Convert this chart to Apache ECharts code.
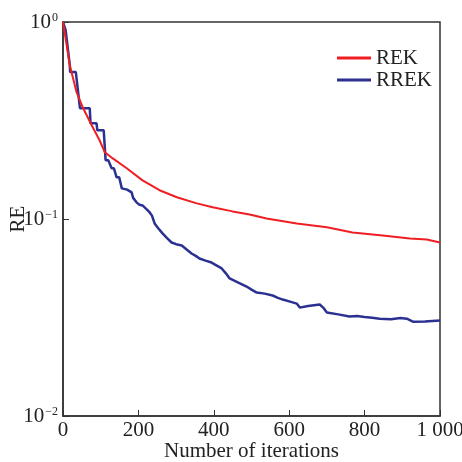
<!DOCTYPE html>
<html>
<head>
<meta charset="utf-8">
<script src="https://cdn.jsdelivr.net/npm/echarts@6/dist/echarts.min.js"></script>
<style>
  html, body { margin: 0; padding: 0; background: #fff; }
  #chart { width: 462px; height: 462px; }
</style>
</head>
<body>
<div id="chart"></div>
<script>
var seriesNames = ['REK', 'RREK'];

// [iteration, RE]
var rekData = [
    [0, 1.0], [18, 0.604], [36, 0.44], [52, 0.37], [76, 0.299], [97, 0.251],
    [111, 0.218], [132, 0.203], [169, 0.181], [211, 0.157], [256, 0.14],
    [302, 0.129], [355, 0.12], [397, 0.1146], [450, 0.1093], [495, 0.1055],
    [540, 0.1007], [620, 0.095], [700, 0.0907], [768, 0.0855], [848, 0.0825],
    [920, 0.0796], [965, 0.0787], [1000, 0.076]
];

var rrekData = [
    [0, 1.0], [7, 0.91], [18, 0.604], [19, 0.557], [34, 0.557], [45, 0.365],
    [71, 0.365], [73, 0.306], [89, 0.306], [91, 0.282], [108, 0.282],
    [113, 0.199], [120, 0.199], [129, 0.181], [135, 0.181], [142, 0.163],
    [149, 0.163], [156, 0.143], [170, 0.141], [182, 0.1365], [186, 0.128],
    [195, 0.1215], [203, 0.118], [211, 0.1172], [222, 0.112], [230, 0.108],
    [236, 0.104], [243, 0.095], [252, 0.09], [264, 0.0845], [276, 0.08],
    [288, 0.076], [300, 0.0745], [315, 0.0734], [328, 0.07], [341, 0.0668],
    [352, 0.065], [362, 0.063], [378, 0.0615], [394, 0.0601], [408, 0.058],
    [421, 0.0561], [432, 0.053], [442, 0.0499], [465, 0.0475], [487, 0.0454],
    [500, 0.0438], [514, 0.0423], [535, 0.0418], [556, 0.0409], [570, 0.0398],
    [583, 0.039], [600, 0.0382], [620, 0.0372], [628, 0.0355], [650, 0.0362],
    [681, 0.0368], [690, 0.0355], [700, 0.0335], [730, 0.0328], [760, 0.032],
    [780, 0.0322], [800, 0.0318], [820, 0.0315], [840, 0.0312], [870, 0.031],
    [895, 0.0314], [912, 0.0312], [928, 0.0301], [960, 0.0302], [1000, 0.0305]
];

var xTicks = [0, 200, 400, 600, 800, 1000];
var yTicks = [0.01, 0.1, 1];

var font = '"Liberation Serif", "Times New Roman", serif';
var axisColor = '#333';

var option = {
    animation: false,
    backgroundColor: '#fff',
    textStyle: { fontFamily: font },
    grid: {
        left: 63, right: 22, top: 22, bottom: 46,
        outerBoundsMode: 'none',
        containLabel: false,
        show: true, borderColor: axisColor, borderWidth: 1.5
    },
    legend: {
        orient: 'vertical',
        left: 337, top: 47,
        padding: 0,
        icon: 'rect',
        itemWidth: 34, itemHeight: 3, itemGap: 0,
        textStyle: { fontFamily: font, fontSize: 21, color: '#222', lineHeight: 22 },
        data: seriesNames
    },
    xAxis: {
        type: 'value',
        min: 0, max: 1000, interval: 200,
        name: 'Number of iterations',
        nameLocation: 'middle',
        nameGap: 25,
        nameMoveOverlap: false,
        nameTextStyle: { fontFamily: font, fontSize: 21, color: '#222' },
        axisLine: { lineStyle: { color: axisColor, width: 1.5 } },
        axisTick: { inside: true, length: 6, lineStyle: { color: axisColor } },
        axisLabel: {
            fontFamily: font, fontSize: 21, color: '#222', margin: 4,
            formatter: function (v) {
                return xTicks.indexOf(v) >= 0 && v >= 1000 ? '1 000' : String(v);
            }
        },
        splitLine: { show: false }
    },
    yAxis: {
        type: 'log',
        logBase: 10,
        min: yTicks[0], max: yTicks[yTicks.length - 1],
        name: 'RE',
        nameLocation: 'middle',
        nameGap: 34,
        nameMoveOverlap: false,
        nameTextStyle: { fontFamily: font, fontSize: 21, color: '#222' },
        axisLine: { lineStyle: { color: axisColor, width: 1.5 } },
        axisTick: { inside: true, length: 6, lineStyle: { color: axisColor } },
        minorTick: { show: false },
        axisLabel: {
            margin: 5,
            formatter: function (v) {
                var e = Math.round(Math.log10(v));
                return '{b|10}{s|' + (e === 0 ? '0' : '\u2212' + (-e)) + '}';
            },
            rich: {
                b: { fontFamily: font, fontSize: 21, color: '#222' },
                s: { fontFamily: font, fontSize: 12, color: '#222', verticalAlign: 'top', padding: [0, 0, 8, 1] }
            }
        },
        splitLine: { show: false }
    },
    series: [
        {
            name: seriesNames[0],
            type: 'line',
            data: rekData,
            showSymbol: false,
            z: 3,
            lineStyle: { color: '#f01e23', width: 2 },
            itemStyle: { color: '#f01e23' }
        },
        {
            name: seriesNames[1],
            type: 'line',
            data: rrekData,
            showSymbol: false,
            z: 2,
            lineStyle: { color: '#2a3190', width: 2.5 },
            itemStyle: { color: '#2a3190' }
        }
    ]
};

var chart = echarts.init(document.getElementById('chart'));
chart.setOption(option);
</script>
</body>
</html>
